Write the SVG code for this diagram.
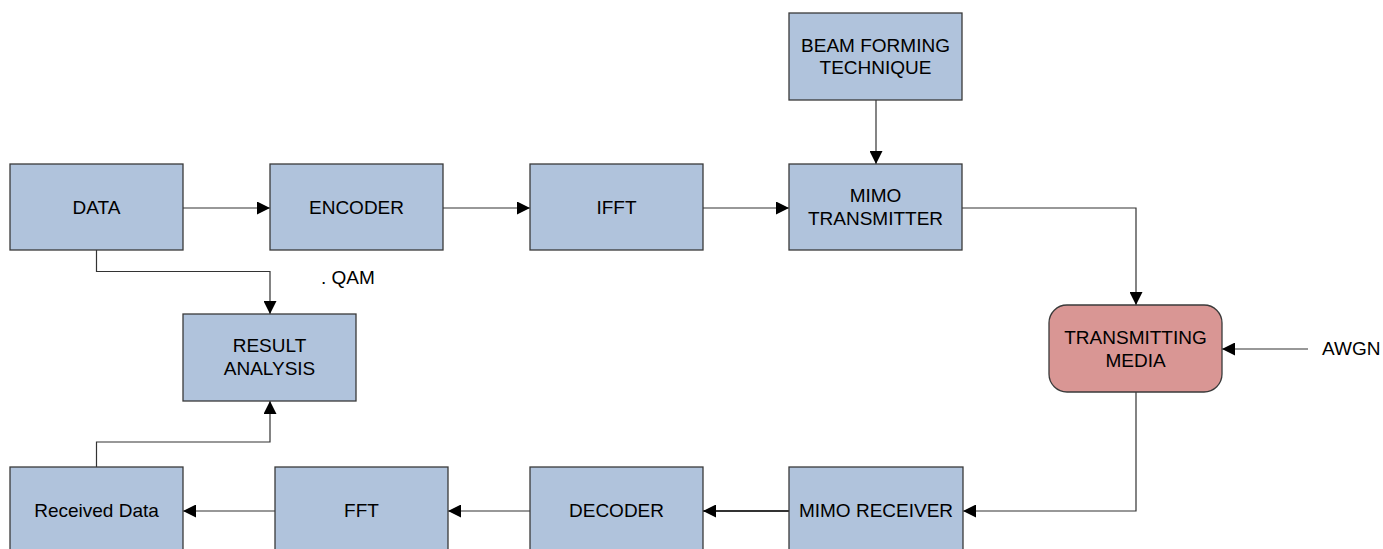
<svg xmlns="http://www.w3.org/2000/svg" width="1383" height="549" viewBox="0 0 1383 549">
<style>
.box{fill:#B0C3DC;stroke:#3a3a3a;stroke-width:1.3}
.tm{fill:#D99694;stroke:#3a3a3a;stroke-width:1.3}
text{font-family:"Liberation Sans",Arial,sans-serif;font-size:19px;fill:#000;text-anchor:middle}
.c{fill:none;stroke:#333;stroke-width:1.2;marker-end:url(#ah)}
.plain{text-anchor:start}
</style>
<defs>
<marker id="ah" markerUnits="userSpaceOnUse" markerWidth="14" markerHeight="13" refX="13" refY="6.5" orient="auto">
<path d="M0,0 L13,6.5 L0,13 z" fill="#000"/>
</marker>
</defs>
<rect width="1383" height="549" fill="#fff"/>
<g id="connectors">
<path class="c" d="M183,208 H270"/>
<path class="c" d="M443,208 H530"/>
<path class="c" d="M703,208 H789"/>
<path class="c" d="M876,100 V164"/>
<path class="c" d="M962,208 H1136 V305"/>
<path class="c" d="M1308,349 H1222"/>
<path class="c" d="M1136,392 V511 H963"/>
<path class="c" d="M789,511 H703" style="stroke-width:2"/>
<path class="c" d="M530,511 H448"/>
<path class="c" d="M275,511 H183"/>
<path class="c" d="M96.5,250 V271.5 H270 V314"/>
<path class="c" d="M96.5,467 V442 H270 V401"/>
</g>
<g id="data"><rect class="box" x="10" y="164" width="173" height="86"/><text x="96.5" y="214">DATA</text></g>
<g id="encoder"><rect class="box" x="270" y="164" width="173" height="86"/><text x="356.5" y="214">ENCODER</text></g>
<g id="ifft"><rect class="box" x="530" y="164" width="173" height="86"/><text x="616.5" y="214">IFFT</text></g>
<g id="mimo-tx"><rect class="box" x="789" y="164" width="173" height="86"/><text x="875.5" y="202">MIMO</text><text x="875.5" y="225">TRANSMITTER</text></g>
<g id="beam"><rect class="box" x="789" y="13" width="173" height="87"/><text x="875.5" y="52">BEAM FORMING</text><text x="875.5" y="74">TECHNIQUE</text></g>
<g id="result"><rect class="box" x="183" y="314" width="173" height="87"/><text x="269.5" y="352">RESULT</text><text x="269.5" y="375">ANALYSIS</text></g>
<g id="tm"><rect class="tm" x="1049" y="305" width="173" height="87" rx="18" ry="18"/><text x="1135.5" y="344">TRANSMITTING</text><text x="1135.5" y="367">MEDIA</text></g>
<g id="awgn"><text class="plain" x="1322" y="355">AWGN</text></g>
<g id="qam"><text class="plain" x="321" y="284">. QAM</text></g>
<g id="received"><rect class="box" x="10" y="467" width="173" height="87"/><text x="96.5" y="517">Received Data</text></g>
<g id="fft"><rect class="box" x="275" y="467" width="173" height="87"/><text x="361.5" y="517">FFT</text></g>
<g id="decoder"><rect class="box" x="530" y="467" width="173" height="87"/><text x="616.5" y="517">DECODER</text></g>
<g id="mimo-rx"><rect class="box" x="789" y="467" width="174" height="87"/><text x="876" y="517">MIMO RECEIVER</text></g>
</svg>
